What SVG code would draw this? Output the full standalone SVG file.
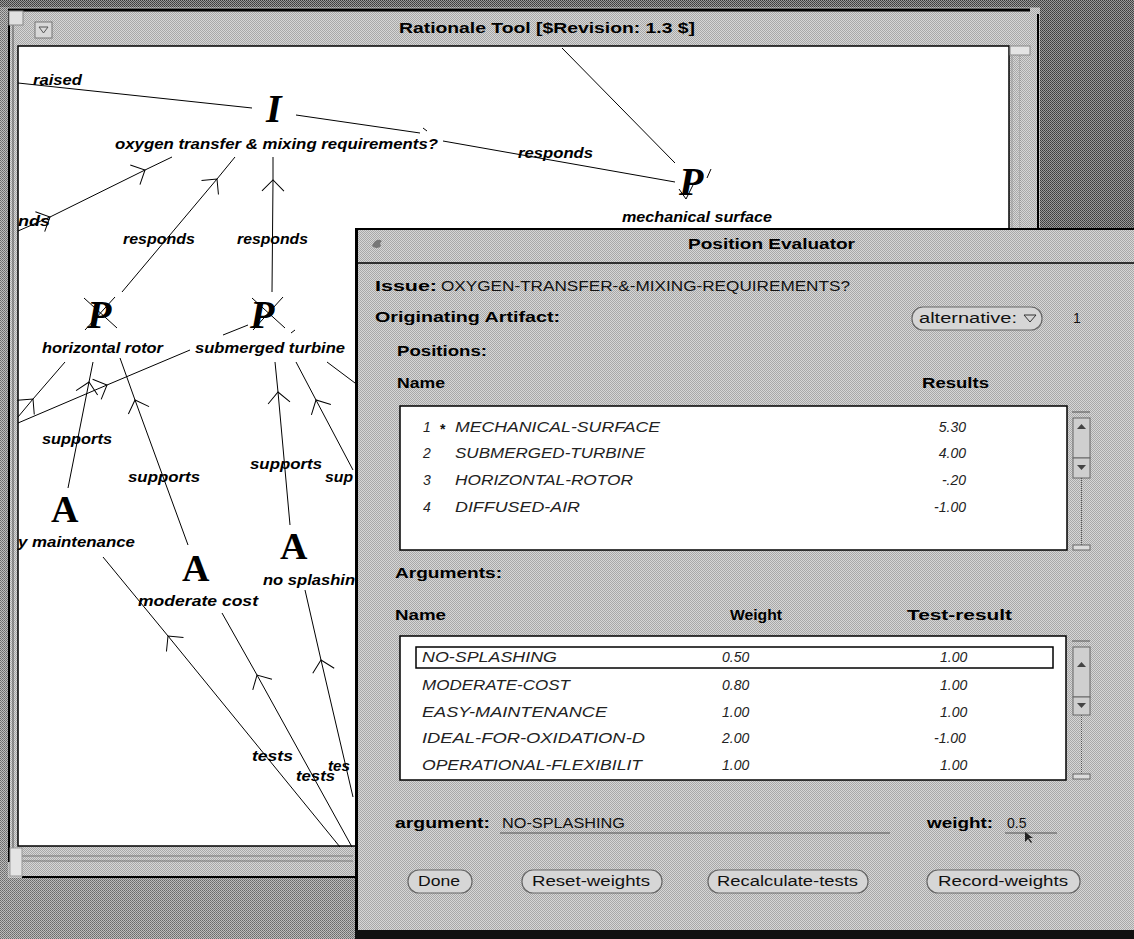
<svg xmlns="http://www.w3.org/2000/svg" width="1134" height="939" viewBox="0 0 1134 939">
<style>
.lbl{font-family:"Liberation Sans",Arial,sans-serif;font-style:italic;font-weight:bold;font-size:15px;fill:#000}
.gi{font-family:"Liberation Serif","Times New Roman",serif;font-weight:bold;font-style:italic;font-size:40px;fill:#000}
.ga{font-family:"Liberation Serif","Times New Roman",serif;font-weight:bold;font-size:38px;fill:#000}
.b{font-family:"Liberation Sans",Arial,sans-serif;font-weight:bold;font-size:15px;fill:#000}
.r{font-family:"Liberation Sans",Arial,sans-serif;font-size:14px;fill:#111}
.it{font-family:"Liberation Sans",Arial,sans-serif;font-style:italic;font-size:14px;fill:#222}
.edge{stroke:#000;stroke-width:1;fill:none}
.btn{fill:#d6d6d6;stroke:#666;stroke-width:1.2}
</style>
<defs>
<pattern id="dith" width="2" height="2" patternUnits="userSpaceOnUse">
<rect width="2" height="2" fill="#d6d6d6"/><rect width="1" height="1" fill="#a8a8a8"/><rect x="1" y="1" width="1" height="1" fill="#a8a8a8"/>
</pattern>
<pattern id="desk" width="2" height="2" patternUnits="userSpaceOnUse">
<rect width="2" height="2" fill="#bcbcbc"/><rect width="1" height="1" fill="#6a6a6a"/><rect x="1" y="1" width="1" height="1" fill="#7a7a7a"/>
</pattern>
<pattern id="dark" width="2" height="2" patternUnits="userSpaceOnUse">
<rect width="2" height="2" fill="#9a9a9a"/><rect width="1" height="1" fill="#3c3c3c"/><rect x="1" y="1" width="1" height="1" fill="#4a4a4a"/>
</pattern>
<marker id="chev" markerWidth="26" markerHeight="26" refX="13" refY="13" orient="auto" markerUnits="userSpaceOnUse">
<path d="M2,2 L13,13 L2,24" fill="none" stroke="#000" stroke-width="1"/>
</marker>
</defs>

<!-- desktop -->
<rect x="0" y="0" width="1134" height="939" fill="url(#desk)"/>
<rect x="1040" y="0" width="94" height="228" fill="url(#dark)"/>
<rect x="0" y="0" width="1040" height="7" fill="url(#dark)"/>

<!-- main window frame -->
<g id="main-window">
<rect x="8" y="8" width="1032" height="870" fill="url(#dith)"/>
<line x1="8" y1="10" x2="1030" y2="10" stroke="#000" stroke-width="3"/>
<line x1="1038" y1="14" x2="1038" y2="228" stroke="#000" stroke-width="2"/>
<line x1="9" y1="12" x2="9" y2="862" stroke="#000" stroke-width="2"/>
<line x1="13" y1="14" x2="13" y2="862" stroke="#555" stroke-width="1"/>
<line x1="22" y1="877" x2="355" y2="877" stroke="#000" stroke-width="2"/>
<rect x="9" y="11" width="14" height="14" fill="#e0e0e0" stroke="#888" stroke-width="1"/>
<rect x="35" y="22" width="17" height="16" fill="#d8d8d8" stroke="#777" stroke-width="1"/>
<path d="M39,27 L48,27 L43.5,33 Z" fill="none" stroke="#555" stroke-width="1"/>
<text class="b" x="399" y="33" font-size="16" textLength="296" lengthAdjust="spacingAndGlyphs">Rationale Tool [$Revision: 1.3 $]</text>
<rect x="18" y="46" width="991" height="800" fill="#fff" stroke="#000" stroke-width="1.5"/>
<rect x="1010" y="46" width="20" height="9" fill="#e4e4e4" stroke="#888" stroke-width="1"/>
<line x1="1020" y1="56" x2="1020" y2="228" stroke="#888" stroke-width="1" stroke-dasharray="1,1"/>
<line x1="1012" y1="56" x2="1012" y2="228" stroke="#999" stroke-width="1"/>
<line x1="20" y1="856" x2="353" y2="856" stroke="#777" stroke-width="1"/>
<line x1="20" y1="861" x2="353" y2="861" stroke="#777" stroke-width="1"/>
<rect x="10" y="848" width="12" height="28" fill="#e4e4e4" stroke="#999" stroke-width="1"/>
</g>

<!-- connectors -->
<g id="connectors">
<path class="edge" d="M18,83 L252,108"/>
<path class="edge" d="M296,115 L420,133"/>
<path class="edge" d="M423,128 L427,131"/>
<path class="edge" d="M675,182 L443,141"/>
<path class="edge" d="M562,48 L675,163"/>
<path class="edge" d="M679,189 L686,199 L693,185"/>
<path class="edge" d="M707,178 L711,169"/>
<path class="edge" d="M18,231 L50,217 L145,170 L172,157" marker-mid="url(#chev)"/>
<path class="edge" d="M122,292 L217,179 L235,157" marker-mid="url(#chev)"/>
<path class="edge" d="M272,292 L273,180 L273,157" marker-mid="url(#chev)"/>
<path class="edge" d="M18,417 L33,399 L65,362" marker-mid="url(#chev)"/>
<path class="edge" d="M18,423 L107,385 L190,350" marker-mid="url(#chev)"/>
<path class="edge" d="M223,335 L248,325"/>
<path class="edge" d="M68,488 L89,382 L93,362" marker-mid="url(#chev)"/>
<path class="edge" d="M188,545 L135,400 L120,358" marker-mid="url(#chev)"/>
<path class="edge" d="M290,525 L278,392 L275,362" marker-mid="url(#chev)"/>
<path class="edge" d="M353,470 L316,400 L296,362" marker-mid="url(#chev)"/>
<path class="edge" d="M355,383 L327,362"/>
<path class="edge" d="M291,333 L295,330"/>
<path class="edge" d="M84,298 L117,328 M85,330 L115,297"/>
<path class="edge" d="M252,298 L285,328 M253,330 L283,297"/>
<path class="edge" d="M340,847 L168,636 L103,557" marker-mid="url(#chev)"/>
<path class="edge" d="M352,847 L257,675 L222,613" marker-mid="url(#chev)"/>
<path class="edge" d="M353,797 L321,660 L305,590" marker-mid="url(#chev)"/>
<text class="lbl" x="33" y="85" textLength="49" lengthAdjust="spacingAndGlyphs">raised</text>
<text class="lbl" x="18" y="226" textLength="32" lengthAdjust="spacingAndGlyphs">nds</text>
<text class="lbl" x="123" y="244" textLength="72" lengthAdjust="spacingAndGlyphs">responds</text>
<text class="lbl" x="237" y="244" textLength="71" lengthAdjust="spacingAndGlyphs">responds</text>
<text class="lbl" x="518" y="158" textLength="75" lengthAdjust="spacingAndGlyphs">responds</text>
<text class="lbl" x="42" y="444" textLength="70" lengthAdjust="spacingAndGlyphs">supports</text>
<text class="lbl" x="128" y="482" textLength="72" lengthAdjust="spacingAndGlyphs">supports</text>
<text class="lbl" x="250" y="469" textLength="72" lengthAdjust="spacingAndGlyphs">supports</text>
<text class="lbl" x="325" y="482" textLength="28" lengthAdjust="spacingAndGlyphs">sup</text>
<text class="lbl" x="252" y="761" textLength="41" lengthAdjust="spacingAndGlyphs">tests</text>
<text class="lbl" x="296" y="781" textLength="39" lengthAdjust="spacingAndGlyphs">tests</text>
<text class="lbl" x="328" y="771" textLength="22" lengthAdjust="spacingAndGlyphs">tes</text>
</g>

<!-- nodes -->
<g id="issue-oxygen">
<text class="gi" x="266" y="122" font-size="37">I</text>
<text class="lbl" x="115" y="149" textLength="323" lengthAdjust="spacingAndGlyphs">oxygen transfer &amp; mixing requirements?</text>
</g>
<g id="position-mechanical-surface">
<text class="gi" x="679" y="195">P</text>
<text class="lbl" x="622" y="222" textLength="150" lengthAdjust="spacingAndGlyphs">mechanical surface</text>
</g>
<g id="position-horizontal-rotor">
<text class="gi" x="87" y="328">P</text>
<text class="lbl" x="42" y="353" textLength="121" lengthAdjust="spacingAndGlyphs">horizontal rotor</text>
</g>
<g id="position-submerged-turbine">
<text class="gi" x="250" y="328">P</text>
<text class="lbl" x="195" y="353" textLength="150" lengthAdjust="spacingAndGlyphs">submerged turbine</text>
</g>
<g id="argument-easy-maintenance">
<text class="ga" x="51" y="522" font-size="37">A</text>
<text class="lbl" x="18" y="547" textLength="117" lengthAdjust="spacingAndGlyphs">y maintenance</text>
</g>
<g id="argument-moderate-cost">
<text class="ga" x="182" y="581" font-size="37">A</text>
<text class="lbl" x="138" y="606" textLength="120" lengthAdjust="spacingAndGlyphs">moderate cost</text>
</g>
<g id="argument-no-splashing">
<text class="ga" x="280" y="559" font-size="37">A</text>
<text class="lbl" x="263" y="585" textLength="92" lengthAdjust="spacingAndGlyphs">no splashin</text>
</g>

<!-- Position Evaluator dialog -->
<g id="position-evaluator">
<rect x="355" y="228" width="779" height="711" fill="url(#dith)"/>
<line x1="355" y1="229" x2="1134" y2="229" stroke="#000" stroke-width="2"/>
<line x1="356.5" y1="228" x2="356.5" y2="939" stroke="#000" stroke-width="3"/>
<rect x="355" y="930" width="779" height="9" fill="#111"/>
<line x1="358" y1="263" x2="1134" y2="263" stroke="#000" stroke-width="1.5"/>
<path d="M372,246 q4,-9 10,-5 q-3,2 -1,5 q-4,4 -9,0 Z" fill="#777"/>
<text class="b" x="688" y="249" font-size="16" textLength="167" lengthAdjust="spacingAndGlyphs">Position Evaluator</text>

<text class="b" x="375" y="291" textLength="62" lengthAdjust="spacingAndGlyphs">Issue:</text>
<text class="r" x="441" y="291" textLength="409" lengthAdjust="spacingAndGlyphs">OXYGEN-TRANSFER-&amp;-MIXING-REQUIREMENTS?</text>
<text class="b" x="375" y="322" textLength="185" lengthAdjust="spacingAndGlyphs">Originating Artifact:</text>
<rect class="btn" x="912" y="307" width="130" height="23" rx="11"/>
<text class="r" x="919" y="323" textLength="98" lengthAdjust="spacingAndGlyphs">alternative:</text>
<path d="M1024,315 L1036,315 L1030,322 Z" fill="none" stroke="#333" stroke-width="1"/>
<text class="r" x="1073" y="323">1</text>

<text class="b" x="397" y="356" textLength="90" lengthAdjust="spacingAndGlyphs">Positions:</text>
<text class="b" x="397" y="388" textLength="48" lengthAdjust="spacingAndGlyphs">Name</text>
<text class="b" x="922" y="388" textLength="67" lengthAdjust="spacingAndGlyphs">Results</text>

<rect x="400" y="406" width="667" height="144" fill="#fff" stroke="#000" stroke-width="1.5"/>
<text class="it" x="423" y="432">1</text>
<text class="r" x="440" y="434" font-weight="bold" font-size="15">*</text>
<text class="it" x="455" y="432" textLength="205" lengthAdjust="spacingAndGlyphs">MECHANICAL-SURFACE</text>
<text class="it" x="423" y="458">2</text>
<text class="it" x="455" y="458" textLength="190" lengthAdjust="spacingAndGlyphs">SUBMERGED-TURBINE</text>
<text class="it" x="423" y="485">3</text>
<text class="it" x="455" y="485" textLength="178" lengthAdjust="spacingAndGlyphs">HORIZONTAL-ROTOR</text>
<text class="it" x="423" y="512">4</text>
<text class="it" x="455" y="512" textLength="125" lengthAdjust="spacingAndGlyphs">DIFFUSED-AIR</text>
<text class="it" x="966" y="432" text-anchor="end">5.30</text>
<text class="it" x="966" y="458" text-anchor="end">4.00</text>
<text class="it" x="966" y="485" text-anchor="end">-.20</text>
<text class="it" x="966" y="512" text-anchor="end">-1.00</text>

<g id="pos-scrollbar">
<line x1="1072" y1="412" x2="1090" y2="412" stroke="#555" stroke-width="1"/>
<rect x="1073" y="418" width="17" height="40" fill="#cfcfcf" stroke="#666" stroke-width="1"/>
<path d="M1077,429 L1081.5,424 L1086,429 Z" fill="#444"/>
<rect x="1073" y="458" width="17" height="20" fill="#cfcfcf" stroke="#666" stroke-width="1"/>
<path d="M1077,465 L1081.5,470 L1086,465 Z" fill="#444"/>
<line x1="1081.5" y1="478" x2="1081.5" y2="545" stroke="#555" stroke-width="1" stroke-dasharray="1,1"/>
<rect x="1073" y="545" width="17" height="5" fill="#dcdcdc" stroke="#666" stroke-width="1"/>
</g>

<text class="b" x="395" y="578" textLength="107" lengthAdjust="spacingAndGlyphs">Arguments:</text>
<text class="b" x="395" y="620" textLength="51" lengthAdjust="spacingAndGlyphs">Name</text>
<text class="b" x="730" y="620" textLength="52" lengthAdjust="spacingAndGlyphs">Weight</text>
<text class="b" x="907" y="620" textLength="105" lengthAdjust="spacingAndGlyphs">Test-result</text>

<rect x="400" y="636" width="666" height="144" fill="#fff" stroke="#000" stroke-width="1.5"/>
<rect x="416" y="647" width="637" height="21" fill="none" stroke="#000" stroke-width="1.5"/>
<text class="it" x="422" y="662" textLength="135" lengthAdjust="spacingAndGlyphs">NO-SPLASHING</text>
<text class="it" x="422" y="690" textLength="148" lengthAdjust="spacingAndGlyphs">MODERATE-COST</text>
<text class="it" x="422" y="717" textLength="185" lengthAdjust="spacingAndGlyphs">EASY-MAINTENANCE</text>
<text class="it" x="422" y="743" textLength="223" lengthAdjust="spacingAndGlyphs">IDEAL-FOR-OXIDATION-D</text>
<text class="it" x="422" y="770" textLength="220" lengthAdjust="spacingAndGlyphs">OPERATIONAL-FLEXIBILIT</text>
<text class="it" x="722" y="662">0.50</text>
<text class="it" x="722" y="690">0.80</text>
<text class="it" x="722" y="717">1.00</text>
<text class="it" x="722" y="743">2.00</text>
<text class="it" x="722" y="770">1.00</text>
<text class="it" x="940" y="662">1.00</text>
<text class="it" x="940" y="690">1.00</text>
<text class="it" x="940" y="717">1.00</text>
<text class="it" x="934" y="743">-1.00</text>
<text class="it" x="940" y="770">1.00</text>

<g id="arg-scrollbar">
<line x1="1072" y1="641" x2="1090" y2="641" stroke="#555" stroke-width="1"/>
<rect x="1073" y="647" width="17" height="50" fill="#cfcfcf" stroke="#666" stroke-width="1"/>
<path d="M1077,667 L1081.5,662 L1086,667 Z" fill="#444"/>
<rect x="1073" y="697" width="17" height="18" fill="#cfcfcf" stroke="#666" stroke-width="1"/>
<path d="M1077,703 L1081.5,708 L1086,703 Z" fill="#444"/>
<line x1="1081.5" y1="715" x2="1081.5" y2="774" stroke="#555" stroke-width="1" stroke-dasharray="1,1"/>
<rect x="1073" y="774" width="17" height="5" fill="#dcdcdc" stroke="#666" stroke-width="1"/>
</g>

<text class="b" x="395" y="828" textLength="95" lengthAdjust="spacingAndGlyphs">argument:</text>
<text class="r" x="502" y="828" textLength="123" lengthAdjust="spacingAndGlyphs">NO-SPLASHING</text>
<line x1="500" y1="833" x2="890" y2="833" stroke="#555" stroke-width="1"/>
<text class="b" x="927" y="828" textLength="66" lengthAdjust="spacingAndGlyphs">weight:</text>
<text class="r" x="1007" y="828">0.5</text>
<line x1="1005" y1="833" x2="1057" y2="833" stroke="#555" stroke-width="1"/>
<path d="M1025,832 L1025,842 L1028,839 L1031,843 L1032,842 L1029,838 L1033,838 Z" fill="#222"/>

<rect class="btn" x="408" y="870" width="64" height="23" rx="11"/>
<text class="r" x="418" y="886" textLength="42" lengthAdjust="spacingAndGlyphs">Done</text>
<rect class="btn" x="522" y="870" width="140" height="23" rx="11"/>
<text class="r" x="532" y="886" textLength="118" lengthAdjust="spacingAndGlyphs">Reset-weights</text>
<rect class="btn" x="708" y="870" width="160" height="23" rx="11"/>
<text class="r" x="717" y="886" textLength="141" lengthAdjust="spacingAndGlyphs">Recalculate-tests</text>
<rect class="btn" x="927" y="870" width="153" height="23" rx="11"/>
<text class="r" x="938" y="886" textLength="130" lengthAdjust="spacingAndGlyphs">Record-weights</text>
</g>
</svg>
